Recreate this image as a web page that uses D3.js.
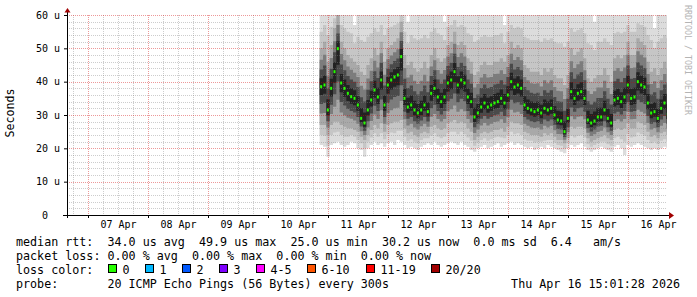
<!DOCTYPE html>
<html>
<head>
<meta charset="utf-8">
<script src="https://cdn.jsdelivr.net/npm/d3@7"></script>
<style>
  body { margin: 0; background: #fff; }
  text { font-family: "DejaVu Sans Mono", monospace; white-space: pre; }
</style>
</head>
<body>
<svg id="chart" width="697" height="297"></svg>
<script>
// one sample every 80 minutes, first one at Apr 10 20:40
const startTime = new Date(2026, 3, 10, 20, 40);
const stepMinutes = 80;

// median rtt (us)
const median = [
  38.5, 39, 31.5, 38, 43, 49.9, 39.6, 38, 36.5, 35.5,
  35, 33, 29, 27.6, 31.5, 34.5, 37.5, 35.4, 40.5, 33,
  39, 40.5, 41.4, 42, 47.5, 35, 32.4, 33, 31.5, 30.6,
  31.5, 33, 31, 36.5, 38,
  35.4, 34, 35.4, 39.6, 40.5, 43, 39, 40.5, 39.6, 35.4,
  34, 29.4, 30.6, 32.4, 33.6, 32.4, 33, 33.6, 34, 35,
  33.6, 36, 40, 38.4, 39, 38, 33, 32, 31.5, 31,
  31.5, 30.6, 32, 31.5,
  32, 30, 28.5, 28.2, 25, 29, 37, 35, 36.5, 37,
  35, 28.5, 27.6, 28.2, 29.4, 29.4, 31.5, 29, 27.6, 34.5,
  35, 34, 35.4, 39, 35, 35.4, 40, 39, 38.4, 33.6,
  30.6, 31, 29, 32, 33.6, 30.2
];

// smallest ping of each sample
const pingLow = [
  21, 20.5, 17.5, 21, 21.5, 22, 21, 20.5, 21, 22,
  21.5, 20, 19.5, 17.5, 20, 21, 22, 21, 21.5, 20.5,
  21.5, 22, 21, 22.5, 22, 21, 20, 20.5, 20, 19.5,
  20.5, 21, 21.5, 21, 22,
  21, 20.5, 21, 21.5, 22, 21.5, 21, 22, 21, 20.5,
  19.5, 19, 20, 20.5, 21, 20, 20.5, 21, 21.5, 20.5,
  21, 21.5, 22, 21, 21.5, 21, 20.5, 20, 20.5, 19.5,
  20, 20.5, 20, 21,
  20.5, 20, 19.5, 19, 18.5, 20, 21, 20.5, 21, 21.5,
  20.5, 19.5, 19, 19.5, 20, 20.5, 20, 19.5, 19, 20.5,
  21, 20, 18, 21, 20.5, 21, 21.5, 21, 20.5, 20,
  19.5, 20, 19.5, 20, 20.5, 20
];

// lower quarter of the pings
const pingQ1 = [
  27, 27, 24, 27, 28, 28, 27, 26.5, 26, 26,
  25.5, 25, 23.5, 22.5, 24, 25.5, 27, 26, 27.5, 25,
  27, 27.5, 28, 28, 28.5, 26, 24.5, 25, 24, 23.5,
  24.5, 25, 24.5, 26.5, 27,
  26, 25.5, 26, 27.5, 28, 28.5, 27.5, 28, 27.5, 26,
  25, 22.5, 23.5, 24.5, 25, 24.5, 25, 25.5, 25.5, 26,
  25, 26.5, 28, 27.5, 27.5, 27, 25, 24.5, 24, 24,
  24, 23.5, 24.5, 24,
  24.5, 23.5, 22.5, 22.5, 21.5, 23, 26.5, 26, 26.5, 26.5,
  26, 23, 22, 22.5, 23, 23.5, 24, 23, 22.5, 25.5,
  26, 25.5, 26, 27.5, 26, 26, 28, 27.5, 27, 25,
  23.5, 24, 23, 24.5, 25, 24
];

// upper quarter of the pings
const pingQ3 = [
  50, 52, 46, 51, 56, 60, 52, 50, 48, 47,
  46, 45, 43, 42, 45, 47, 50, 48, 52, 46,
  50, 51, 52, 53, 58, 48, 45, 46, 44, 43,
  44, 46, 44, 48, 50,
  47, 46, 47, 51, 52, 55, 51, 52, 51, 47,
  46, 42, 43, 45, 46, 45, 45, 46, 46, 47,
  46, 48, 52, 50, 51, 50, 45, 44, 43, 43,
  43, 42, 44, 43,
  44, 42, 41, 41, 39, 42, 50, 48, 49, 50,
  47, 41, 40, 41, 42, 42, 44, 42, 40, 47,
  48, 47, 48, 52, 48, 48, 53, 52, 51, 46,
  43, 44, 42, 44, 46, 44
];

// largest ping of each sample (above 60 is cut off)
const pingHigh = [
  60, 62, 62, 62, 62, 62, 62, 62, 62, 62,
  57, 62, 62, 62, 62, 62, 62, 62, 62, 62,
  62, 62, 62, 62, 62, 62, 58, 62, 62, 62,
  62, 62, 62, 62, 62,
  62, 62, 58, 62, 62, 62, 62, 62, 62, 62,
  62, 62, 62, 62, 62, 62, 62, 62, 62, 62,
  57, 62, 62, 62, 62, 62, 62, 62, 62, 62,
  62, 62, 62, 62,
  62, 62, 62, 62, 62, 62, 62, 62, 62, 62,
  62, 62, 62, 58, 62, 62, 62, 62, 62, 62,
  62, 62, 62, 62, 62, 62, 62, 62, 62, 62,
  62, 56, 62, 62, 62, 62
];

const yTicks = [0, 10, 20, 30, 40, 50, 60];
const days = ["2026-04-07", "2026-04-08", "2026-04-09", "2026-04-10", "2026-04-11",
              "2026-04-12", "2026-04-13", "2026-04-14", "2026-04-15", "2026-04-16"];

const lossLabels = ["0", "1", "2", "3", "4-5", "6-10", "11-19", "20/20"];
const lossColors = ["#26ff00", "#00b8ff", "#0059ff", "#7e00ff", "#ff00ff", "#ff5500", "#ff0000", "#a10000"];

const legendRows = [
  "median rtt:  34.0 us avg  49.9 us max  25.0 us min  30.2 us now  0.0 ms sd  6.4   am/s",
  "packet loss: 0.00 % avg  0.00 % max  0.00 % min  0.00 % now",
  "loss color:",
  "probe:       20 ICMP Echo Pings (56 Bytes) every 300s"
];
const stamp = "Thu Apr 16 15:01:28 2026";

const svg = d3.select("#chart");
const plotLeft = 67, plotRight = 667, plotTop = 15, plotBottom = 215;

const x = d3.scaleTime()
  .domain([new Date(2026, 3, 6, 15, 36), new Date(2026, 3, 16, 15, 36)])
  .range([plotLeft, plotRight]);
const y = d3.scaleLinear().domain([0, 60]).range([plotBottom, plotTop]);

const parseDay = d3.timeParse("%Y-%m-%d");
const dayDates = days.map(parseDay);

const samples = median.map((m, i) => ({
  t: d3.timeMinute.offset(startTime, i * stepMinutes),
  med: m, lo: pingLow[i], q1: pingQ1[i], q3: pingQ3[i], hi: pingHigh[i]
}));
const last = samples[samples.length - 1];
const stepped = samples.concat([Object.assign({}, last, { t: d3.timeMinute.offset(last.t, stepMinutes) })]);

svg.append("defs").append("clipPath").attr("id", "plot")
  .append("rect").attr("x", plotLeft).attr("y", plotTop)
  .attr("width", plotRight - plotLeft).attr("height", plotBottom - plotTop);

// smoke, from the outside in
const mix = (a, b, k) => a + (b - a) * k;
const layers = [
  { c: "#dcdcdc", lo: d => d.lo, hi: d => d.hi },
  { c: "#c6c6c6", lo: d => mix(d.lo, d.q1, 0.5), hi: d => mix(d.hi, d.q3, 0.5) },
  { c: "#a9a9a9", lo: d => d.q1, hi: d => d.q3 },
  { c: "#7c7c7c", lo: d => mix(d.q1, d.med, 0.3), hi: d => mix(d.q3, d.med, 0.3) },
  { c: "#4a4a4a", lo: d => mix(d.q1, d.med, 0.55), hi: d => mix(d.q3, d.med, 0.55) },
  { c: "#222222", lo: d => mix(d.q1, d.med, 0.78), hi: d => mix(d.q3, d.med, 0.78) }
];

const smoke = svg.append("g").attr("clip-path", "url(#plot)");
layers.forEach(l => {
  smoke.append("path")
    .datum(stepped)
    .attr("fill", l.c)
    .attr("d", d3.area()
      .curve(d3.curveStepAfter)
      .x(d => x(d.t))
      .y0(d => y(l.lo(d)))
      .y1(d => y(l.hi(d))));
});

// grid
const grid = svg.append("g").attr("stroke-dasharray", "1,1").attr("stroke-width", 1);
const minorY = d3.range(0, 61, 2).filter(v => v % 10 !== 0);
grid.selectAll(".hmin").data(minorY).enter().append("line")
  .attr("x1", plotLeft).attr("x2", plotRight)
  .attr("y1", d => Math.round(y(d)) + 0.5).attr("y2", d => Math.round(y(d)) + 0.5)
  .attr("stroke", "rgba(130,130,130,0.4)");
const minorX = d3.timeHour.every(6).range(x.domain()[0], x.domain()[1]).filter(d => d.getHours() !== 0);
grid.selectAll(".vmin").data(minorX).enter().append("line")
  .attr("y1", plotTop).attr("y2", plotBottom)
  .attr("x1", d => Math.round(x(d)) + 0.5).attr("x2", d => Math.round(x(d)) + 0.5)
  .attr("stroke", "rgba(130,130,130,0.4)");
grid.selectAll(".hmaj").data(yTicks.filter(v => v > 0)).enter().append("line")
  .attr("x1", plotLeft).attr("x2", plotRight)
  .attr("y1", d => Math.round(y(d)) + 0.5).attr("y2", d => Math.round(y(d)) + 0.5)
  .attr("stroke", "rgba(210,0,0,0.4)");
grid.selectAll(".vmaj").data(dayDates).enter().append("line")
  .attr("y1", plotTop).attr("y2", plotBottom)
  .attr("x1", d => Math.round(x(d)) + 0.5).attr("x2", d => Math.round(x(d)) + 0.5)
  .attr("stroke", "rgba(210,0,0,0.4)");

// median marks
svg.append("g").attr("clip-path", "url(#plot)")
  .selectAll("rect").data(samples).enter().append("rect")
  .attr("x", d => x(d.t) + 0.5)
  .attr("y", d => y(d.med) - 1.5)
  .attr("width", 2)
  .attr("height", 3)
  .attr("fill", lossColors[0]);

// axes
const yAxis = svg.append("g")
  .attr("transform", `translate(${plotLeft},0)`)
  .call(d3.axisLeft(y).tickValues(yTicks).tickSize(3).tickPadding(4)
    .tickFormat(d => d === 0 ? "0  " : d + " u"));
yAxis.select(".domain").remove();
yAxis.selectAll("text").attr("font-size", 10).attr("font-family", "DejaVu Sans Mono").attr("fill", "#000");

const xAxis = svg.append("g")
  .attr("transform", `translate(0,${plotBottom})`)
  .call(d3.axisBottom(x).tickValues(dayDates).tickSize(3).tickFormat(""));
xAxis.select(".domain").remove();

const xLabels = svg.append("g")
  .attr("transform", `translate(0,${plotBottom})`)
  .call(d3.axisBottom(x).tickValues(dayDates.map(d => d3.timeHour.offset(d, 12)))
    .tickSize(0).tickPadding(6).tickFormat(d3.timeFormat("%d %b")));
xLabels.select(".domain").remove();
xLabels.selectAll("text").attr("font-size", 10).attr("font-family", "DejaVu Sans Mono").attr("fill", "#000");

svg.append("line").attr("x1", plotLeft - 4).attr("x2", 670)
  .attr("y1", plotBottom + 0.5).attr("y2", plotBottom + 0.5)
  .attr("stroke", "#000");
svg.append("line").attr("x1", plotLeft + 0.5).attr("x2", plotLeft + 0.5)
  .attr("y1", plotBottom + 3).attr("y2", 12)
  .attr("stroke", "#000");
svg.append("path").attr("d", "M669,212L674,215.5L669,219Z").attr("fill", "#a00000");
svg.append("path").attr("d", "M64.5,12.5L67.5,8L70.5,12.5Z").attr("fill", "#a00000");

// titles
svg.append("text")
  .attr("transform", "translate(14,113) rotate(-90)")
  .attr("text-anchor", "middle")
  .attr("font-size", 11.6)
  .text("Seconds");

svg.append("text")
  .attr("transform", "translate(685,5) rotate(90)")
  .attr("font-size", 8.3)
  .attr("fill", "#b4b4b4")
  .text("RRDTOOL / TOBI OETIKER");

// legend
const legend = svg.append("g").attr("font-size", 11.7).attr("fill", "#000");
legend.selectAll("text.row").data(legendRows).enter().append("text")
  .attr("class", "row")
  .attr("x", 16)
  .attr("y", (d, i) => 245.5 + i * 14)
  .text(d => d);
legend.append("text")
  .attr("x", 680).attr("y", 245.5 + 3 * 14)
  .attr("text-anchor", "end")
  .text(stamp);

const swatchX = [108, 145, 182, 219, 256, 307, 366, 431];
const swatches = legend.selectAll("g.sw").data(lossLabels).enter().append("g").attr("class", "sw");
swatches.append("rect")
  .attr("x", (d, i) => swatchX[i] + 0.5).attr("y", 264.5)
  .attr("width", 8).attr("height", 8)
  .attr("fill", (d, i) => lossColors[i])
  .attr("stroke", "#000");
swatches.append("text")
  .attr("x", (d, i) => swatchX[i] + 14.5)
  .attr("y", 273.5)
  .text(d => d);
</script>
</body>
</html>
